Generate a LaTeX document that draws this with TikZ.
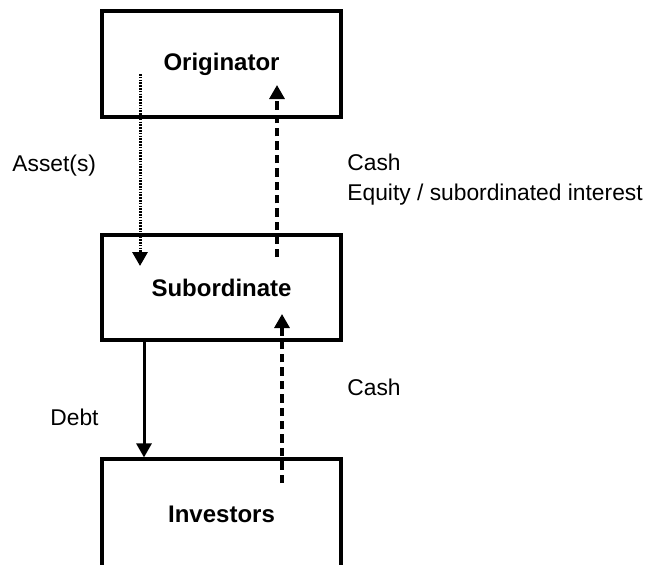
\documentclass[tikz,border=0pt]{standalone}
\usepackage{fontspec}
\setmainfont{Liberation Sans}
\usetikzlibrary{arrows.meta}
\begin{document}
\begin{tikzpicture}[x=0.5pt,y=-0.5pt,
  boxnode/.style={draw, line width=1.6pt, minimum width=119.5pt, inner sep=0pt,
    font=\fontsize{12pt}{14pt}\selectfont\bfseries},
  lbl/.style={anchor=base west, inner sep=0pt, font=\fontsize{11.4pt}{13.5pt}\selectfont},
  tip/.style={-{Triangle[width=7.5pt,length=7pt]}},
  dotarrow/.style={tip, line width=1.5pt, dash pattern=on 0.8pt off 0.6pt},
  dasharrow/.style={tip, line width=1.6pt, dash pattern=on 4.2pt off 2.5pt},
  solidarrow/.style={tip, line width=1.5pt}]
\useasboundingbox (0,0) rectangle (662,564);
\clip (0,0) rectangle (662,564);
\node[boxnode, minimum height=53pt] (orig) at (221.5,64) {Originator};
\node[boxnode, minimum height=52.5pt] (sub) at (221.5,287.5) {Subordinate};
\node[boxnode, minimum height=55pt] (inv) at (221.5,514) {Investors};
% connector ends
\coordinate (a1s) at (140,74);
\coordinate (a1e) at (140,266);
\coordinate (a2s) at (277,257);
\coordinate (a2e) at (277,85);
\coordinate (a3x) at (144,0);
\coordinate (a4s) at (282,483);
\coordinate (a4e) at (282,314);
\draw[dotarrow] (a1s) -- (a1e);
\draw[dasharrow] (a2s) -- (a2e);
\draw[solidarrow] (sub.south -| a3x) -- (inv.north -| a3x);
\draw[dasharrow] (a4s) -- (a4e);
% labels
\node[lbl] (lasset) at (12,171) {Asset(s)};
\node[lbl] (lcash1) at (347,170) {Cash};
\node[lbl] (lequity) at (347,200) {Equity / subordinated interest};
\node[lbl] (lcash2) at (347,395) {Cash};
\node[lbl] (ldebt) at (50,425) {Debt};
\end{tikzpicture}
\end{document}
